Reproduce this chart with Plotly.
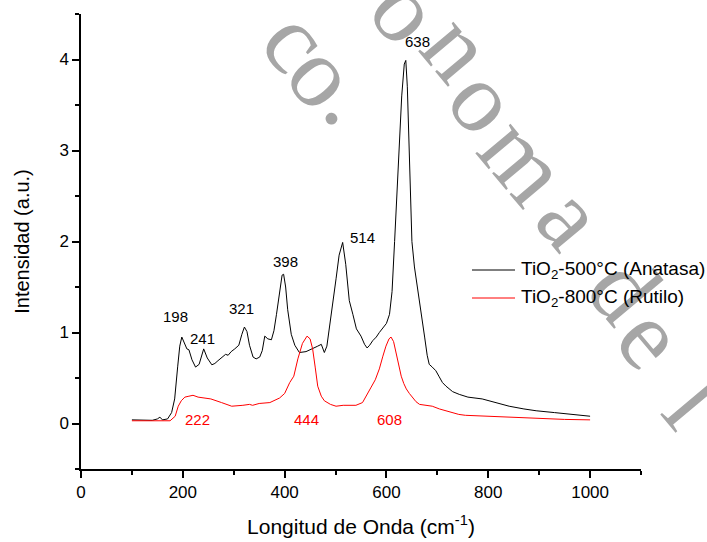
import plotly.graph_objects as go

# ---- data ----
anatasa_x = [100, 120, 140, 150, 155, 160, 170, 178, 184, 190, 194, 198, 203, 208, 212, 218,
             225, 232, 241, 248, 257, 263, 269, 278, 284, 289, 295, 302, 310, 316, 321, 326,
             331, 338, 344, 351, 356, 361, 367, 374, 379, 384, 390, 395, 398, 402, 406, 413,
             420, 429, 442, 455, 465, 472, 478, 483, 488, 495, 501, 507, 514, 520, 527, 534,
             541, 550, 557, 562, 567, 573, 580, 586, 593, 600, 606, 611, 616, 620, 625, 630,
             635, 638, 641, 645, 650, 655, 661, 668, 675, 680, 684, 690, 697, 703, 710, 717,
             723, 730, 743, 760, 788, 810, 841, 870, 894, 930, 960, 1000]
anatasa_y = [0.04, 0.04, 0.035, 0.05, 0.07, 0.04, 0.05, 0.12, 0.27, 0.63, 0.85, 0.95, 0.88, 0.82, 0.81, 0.70,
             0.62, 0.65, 0.82, 0.72, 0.645, 0.66, 0.69, 0.73, 0.76, 0.75, 0.79, 0.82, 0.86, 0.98, 1.06, 1.01,
             0.86, 0.73, 0.71, 0.73, 0.80, 0.96, 0.93, 0.92, 1.02, 1.20, 1.45, 1.63, 1.64, 1.50, 1.25, 0.98,
             0.86, 0.78, 0.79, 0.82, 0.85, 0.87, 0.78, 0.85, 1.05, 1.30, 1.59, 1.85, 1.99, 1.75, 1.35, 1.20,
             1.04, 0.96, 0.87, 0.83, 0.86, 0.91, 0.95, 1.00, 1.05, 1.10, 1.20, 1.45, 2.00, 2.50, 3.10, 3.60,
             3.95, 3.99, 3.70, 3.00, 2.00, 1.72, 1.50, 1.25, 0.95, 0.75, 0.65, 0.62, 0.58, 0.52, 0.45, 0.41,
             0.38, 0.35, 0.32, 0.29, 0.27, 0.24, 0.19, 0.16, 0.14, 0.12, 0.10, 0.08]

rutilo_x = [100, 150, 175, 185, 191, 197, 204, 212, 220, 230, 243, 255, 276, 296, 318, 331,
            337, 350, 371, 390, 400, 410, 418, 426, 435, 444, 450, 455, 460, 465, 472, 478,
            490, 501, 515, 527, 540, 553, 563, 570, 578, 586, 593, 599, 605, 609, 614, 619,
            624, 629, 634, 639, 645, 651, 658, 665, 677, 690, 704, 717, 730, 742, 755, 775,
            802, 850, 887, 950, 1000]
rutilo_y = [0.03, 0.025, 0.03, 0.08, 0.19, 0.25, 0.29, 0.30, 0.31, 0.29, 0.28, 0.27, 0.23, 0.19, 0.20, 0.21,
            0.20, 0.22, 0.23, 0.28, 0.33, 0.45, 0.52, 0.71, 0.88, 0.96, 0.93, 0.82, 0.62, 0.41, 0.30, 0.25,
            0.21, 0.19, 0.20, 0.20, 0.20, 0.23, 0.34, 0.40, 0.48, 0.60, 0.74, 0.85, 0.93, 0.95, 0.90, 0.78,
            0.65, 0.52, 0.44, 0.38, 0.33, 0.29, 0.24, 0.21, 0.20, 0.19, 0.16, 0.14, 0.12, 0.10, 0.09, 0.085,
            0.077, 0.065, 0.055, 0.045, 0.04]

black_labels = ["198", "241", "321", "398", "514", "638"]
black_label_x = [186, 239, 315, 402, 552, 660]
black_label_y = [1.18, 0.93, 1.26, 1.78, 2.04, 4.20]

red_labels = ["222", "444", "608"]
red_label_x = [228, 442, 606]
red_label_y = [0.04, 0.04, 0.04]

series_names = ["TiO<sub>2</sub>-500°C (Anatasa)", "TiO<sub>2</sub>-800°C (Rutilo)"]
series_colors = ["black", "red"]

# watermark letters (gray, diagonal) and their centres in picture pixels
wm_letters = ["c", "o", ".", "o", "n", "o", "m", "a", "d", "e", "l"]
wm_px = [305, 332, 362, 415, 467, 493, 533, 580, 633, 660, 702]
wm_py = [33, 68, 93, 3, 40, 93, 153, 210, 282, 330, 395]

FONT = "Liberation Sans, Arial, sans-serif"
L, R, T, B = 81, 66, 14, 73
PW, PH = 707 - L - R, 542 - T - B


def px2paper(px, py):
    return (px - L) / PW, (542 - B - py) / PH


fig = go.Figure()
fig.add_trace(go.Scatter(x=anatasa_x, y=anatasa_y, mode="lines", name=series_names[0],
                         line=dict(color=series_colors[0], width=1), showlegend=False))
fig.add_trace(go.Scatter(x=rutilo_x, y=rutilo_y, mode="lines", name=series_names[1],
                         line=dict(color=series_colors[1], width=1), showlegend=False))

shapes = []
for ch, px, py in zip(wm_letters, wm_px, wm_py):
    xc, yc = px2paper(px, py)
    shapes.append(dict(type="rect", xref="paper", yref="paper", layer="below",
                       x0=xc - 0.001, x1=xc + 0.001, y0=yc - 0.001, y1=yc + 0.001,
                       line=dict(width=0), fillcolor="rgba(0,0,0,0)",
                       label=dict(text=ch, textangle=50, textposition="middle center",
                                  font=dict(family="Liberation Serif, Times New Roman, serif",
                                            size=100, color="rgb(166,166,166)"))))

annotations = []
for t, x, y in zip(black_labels, black_label_x, black_label_y):
    annotations.append(dict(text=t, x=x, y=y, xref="x", yref="y", showarrow=False,
                            font=dict(family=FONT, size=15, color="black")))
for t, x, y in zip(red_labels, red_label_x, red_label_y):
    annotations.append(dict(text=t, x=x, y=y, xref="x", yref="y", showarrow=False,
                            font=dict(family=FONT, size=15, color="red")))

# legend (drawn as line samples + text so it can run to the picture edge like the original)
legend_py = [270, 298]
for name, color, py in zip(series_names, series_colors, legend_py):
    xa, ya = px2paper(472, py)
    xb, _ = px2paper(515, py)
    shapes.append(dict(type="line", xref="paper", yref="paper", x0=xa, x1=xb, y0=ya, y1=ya,
                       line=dict(color=color, width=1)))
    xt, _ = px2paper(519, py)
    annotations.append(dict(text=name, xref="paper", yref="paper", x=xt, y=ya,
                            xanchor="left", yanchor="middle", showarrow=False,
                            font=dict(family=FONT, size=19, color="black")))

axis_common = dict(showline=True, linecolor="black", linewidth=1.5, mirror=False,
                   ticks="outside", tickcolor="black", tickwidth=1.5, ticklen=7,
                   showgrid=False, zeroline=False, automargin=False,
                   tickfont=dict(family=FONT, size=17, color="black"))

fig.update_layout(
    width=707, height=542,
    margin=dict(l=L, r=R, t=T, b=B),
    paper_bgcolor="white", plot_bgcolor="rgba(0,0,0,0)",
    font=dict(family=FONT, color="black"),
    xaxis=dict(range=[0, 1100], dtick=200, tick0=0,
               minor=dict(dtick=100, ticks="outside", ticklen=4, tickcolor="black", tickwidth=1.5),
               title=dict(text="Longitud de Onda (cm<sup>-1</sup>)",
                          font=dict(family=FONT, size=21), standoff=18),
               **axis_common),
    yaxis=dict(range=[-0.5, 4.5], dtick=1, tick0=0,
               minor=dict(dtick=0.5, ticks="outside", ticklen=4, tickcolor="black", tickwidth=1.5),
               title=dict(text="Intensidad (a.u.)",
                          font=dict(family=FONT, size=20), standoff=24),
               **axis_common),
    shapes=shapes,
    annotations=annotations,
    showlegend=False,
)

fig.write_html("out.html")
